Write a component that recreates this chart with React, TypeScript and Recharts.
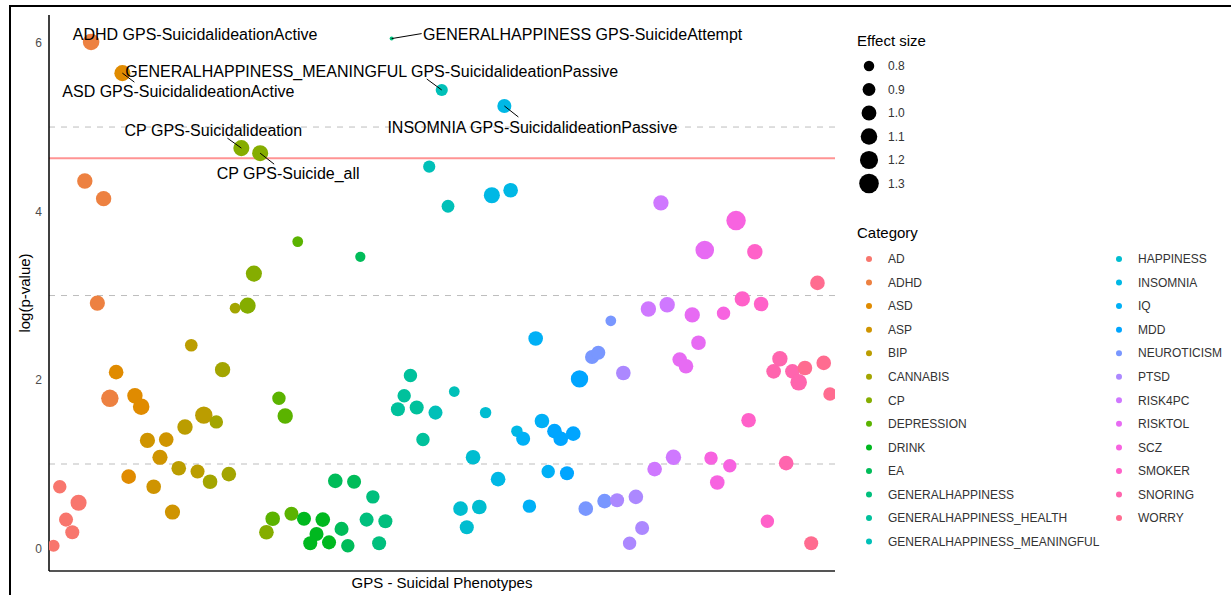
import React from 'react';
import {
  ScatterChart,
  Scatter,
  XAxis,
  YAxis,
  ZAxis,
  ReferenceLine,
} from 'recharts';

const categories = [
  'AD', 'ADHD', 'ASD', 'ASP', 'BIP', 'CANNABIS', 'CP', 'DEPRESSION', 'DRINK', 'EA',
  'GENERALHAPPINESS', 'GENERALHAPPINESS_HEALTH', 'GENERALHAPPINESS_MEANINGFUL',
  'HAPPINESS', 'INSOMNIA', 'IQ', 'MDD', 'NEUROTICISM', 'PTSD', 'RISK4PC', 'RISKTOL',
  'SCZ', 'SMOKER', 'SNORING', 'WORRY',
];

// -log10(p) per category, 5 phenotypes each
const logP: number[][] = [
  [0.03, 0.73, 0.34, 0.19, 0.54],
  [4.36, 6.01, 2.91, 4.15, 1.78],
  [2.09, 5.64, 0.85, 1.81, 1.68],
  [1.28, 0.73, 1.08, 1.29, 0.43],
  [0.95, 1.44, 2.41, 0.91, 1.58],
  [0.79, 1.5, 2.12, 0.88, 2.85],
  [4.75, 2.88, 3.26, 4.69, 0.19],
  [0.35, 1.78, 1.57, 0.41, 3.64],
  [0.35, 0.06, 0.17, 0.34, 0.07],
  [0.8, 0.23, 0.03, 0.79, 3.46],
  [0.34, 0.61, 0.06, 0.32, 6.05],
  [1.65, 1.81, 2.05, 1.67, 1.29],
  [4.53, 1.61, 5.44, 4.06, 1.86],
  [0.47, 0.25, 1.08, 0.49, 1.61],
  [4.19, 0.82, 5.25, 4.25, 1.39],
  [1.3, 0.5, 2.49, 1.51, 0.91],
  [1.39, 1.3, 0.89, 1.36, 2.01],
  [0.47, 2.27, 2.32, 0.56, 2.7],
  [0.57, 2.08, 0.06, 0.61, 0.24],
  [2.84, 0.94, 4.1, 2.89, 1.08],
  [2.24, 2.16, 2.77, 2.44, 3.54],
  [1.07, 0.78, 2.79, 0.98, 3.89],
  [2.96, 1.52, 3.52, 2.9, 0.32],
  [2.1, 2.25, 1.01, 2.1, 1.97],
  [2.14, 0.06, 3.15, 2.2, 1.83],
];

const effect: number[][] = [
  [0.87, 0.93, 0.96, 0.96, 1.07],
  [1.03, 1.1, 1.02, 1.03, 1.15],
  [0.99, 1.07, 0.99, 1.03, 1.1],
  [1.02, 0.99, 1.02, 0.99, 1.02],
  [0.99, 1.03, 0.89, 0.96, 1.15],
  [0.99, 0.93, 1.03, 0.99, 0.81],
  [1.07, 1.07, 1.07, 1.07, 0.99],
  [0.99, 0.93, 1.03, 0.96, 0.81],
  [0.96, 0.96, 0.96, 0.99, 0.96],
  [0.99, 0.96, 0.93, 0.96, 0.79],
  [0.96, 0.93, 0.96, 0.96, 0.63],
  [0.96, 0.93, 0.93, 0.96, 0.93],
  [0.87, 0.96, 0.87, 0.9, 0.81],
  [0.99, 0.96, 0.99, 0.99, 0.84],
  [1.07, 0.99, 0.96, 0.99, 0.84],
  [0.96, 0.93, 0.99, 0.99, 0.93],
  [0.99, 0.99, 0.96, 0.99, 1.15],
  [0.99, 0.96, 0.96, 0.99, 0.81],
  [0.96, 0.99, 0.93, 0.99, 0.96],
  [1.03, 0.99, 1.03, 1.03, 1.03],
  [0.99, 0.99, 1.03, 0.99, 1.23],
  [0.93, 0.99, 0.93, 0.93, 1.29],
  [1.03, 0.99, 1.03, 0.99, 0.93],
  [0.99, 1.03, 0.99, 0.99, 1.1],
  [0.99, 0.96, 0.99, 0.99, 0.93],
];

const labelled = [
  { cat: 1, j: 1, text: 'ADHD GPS-SuicidalideationActive' },
  { cat: 10, j: 4, text: 'GENERALHAPPINESS GPS-SuicideAttempt' },
  { cat: 12, j: 2, text: 'GENERALHAPPINESS_MEANINGFUL GPS-SuicidalideationPassive' },
  { cat: 2, j: 1, text: 'ASD GPS-SuicidalideationActive' },
  { cat: 14, j: 2, text: 'INSOMNIA GPS-SuicidalideationPassive' },
  { cat: 6, j: 0, text: 'CP GPS-Suicidalideation' },
  { cat: 6, j: 3, text: 'CP GPS-Suicide_all' },
];

const sizeBreaks = [0.8, 0.9, 1.0, 1.1, 1.2, 1.3];
const threshold = 4.63;

// label placement (text centre offset, baseline offset, leader end)
const labelPos: Record<string, { dx: number; dy: number; lx?: number; ly?: number }> = {
  'ADHD GPS-SuicidalideationActive': { dx: 104, dy: -2 },
  'GENERALHAPPINESS GPS-SuicideAttempt': { dx: 191, dy: 1, lx: 30, ly: -5 },
  'GENERALHAPPINESS_MEANINGFUL GPS-SuicidalideationPassive': { dx: -70, dy: -13, lx: -15, ly: -11 },
  'ASD GPS-SuicidalideationActive': { dx: 56, dy: 24, lx: 12, ly: 9 },
  'INSOMNIA GPS-SuicidalideationPassive': { dx: 28, dy: 27, lx: 14, ly: 11 },
  'CP GPS-Suicidalideation': { dx: -28, dy: -12, lx: -14, ly: -10 },
  'CP GPS-Suicide_all': { dx: 28, dy: 26, lx: 14, ly: 11 },
};

// ggplot2 default hue palette (hcl, l=65, c=100)
function hueColor(h: number): string {
  const L = 65;
  const C = 100;
  const hr = (h * Math.PI) / 180;
  const U = C * Math.cos(hr);
  const V = C * Math.sin(hr);
  const Xn = 95.047, Yn = 100, Zn = 108.883;
  const den = Xn + 15 * Yn + 3 * Zn;
  const un = (4 * Xn) / den;
  const vn = (9 * Yn) / den;
  const Y = Yn * Math.pow((L + 16) / 116, 3);
  const u = U / (13 * L) + un;
  const v = V / (13 * L) + vn;
  const X = (9 * Y * u) / (4 * v);
  const Z = (Y * (12 - 3 * u - 20 * v)) / (4 * v);
  const x = X / 100, y = Y / 100, z = Z / 100;
  const lin = [
    3.240479 * x - 1.53715 * y - 0.498535 * z,
    -0.969256 * x + 1.875992 * y + 0.041556 * z,
    0.055648 * x - 0.204043 * y + 1.057311 * z,
  ];
  return (
    '#' +
    lin
      .map((c) => {
        let g = c <= 0.0031308 ? 12.92 * c : 1.055 * Math.pow(c, 1 / 2.4) - 0.055;
        g = Math.min(1, Math.max(0, g));
        return Math.round(g * 255).toString(16).padStart(2, '0');
      })
      .join('')
  );
}

const colors = categories.map((_, i) => hueColor(15 + (360 / categories.length) * i));

const Z_DOMAIN = [0.6, 1.4];
const Z_RANGE = [0, 345];
const radiusOf = (e: number) => {
  const area = ((e - Z_DOMAIN[0]) / (Z_DOMAIN[1] - Z_DOMAIN[0])) * (Z_RANGE[1] - Z_RANGE[0]) + Z_RANGE[0];
  return Math.sqrt(area / Math.PI);
};

const series = categories.map((cat, ci) =>
  logP[ci].map((y, j) => ({ x: ci * 5 + j, y, z: effect[ci][j], cat }))
);

const labelData = labelled.map((l) => ({
  x: l.cat * 5 + l.j,
  y: logP[l.cat][l.j],
  z: effect[l.cat][l.j],
  text: l.text,
}));

const LabelShape = (props: any) => {
  const { cx, cy, payload } = props;
  const p = labelPos[payload.text];
  return (
    <g>
      {p.lx !== undefined && (
        <line x1={cx} y1={cy} x2={cx + p.lx} y2={cy + (p.ly ?? 0)} stroke="#000" strokeWidth={1} />
      )}
      <text x={cx + p.dx} y={cy + p.dy} textAnchor="middle" fontSize={16} fill="#000">
        {payload.text}
      </text>
    </g>
  );
};

const LegendPanel = () => {
  const col1 = categories.slice(0, 13);
  const col2 = categories.slice(13);
  const rowH = 23.55;
  return (
    <svg width={386} height={595} style={{ position: 'absolute', left: 845, top: 0 }}>
      <text x={12} y={46} fontSize={15} fill="#000">Effect size</text>
      {sizeBreaks.map((e, i) => (
        <g key={e}>
          <circle cx={24} cy={66 + i * 23.5} r={radiusOf(e)} fill="#000" />
          <text x={43} y={66 + i * 23.5} dy="0.35em" fontSize={12} fill="#333">
            {e.toFixed(1)}
          </text>
        </g>
      ))}
      <text x={12} y={238} fontSize={15} fill="#000">Category</text>
      {col1.map((c, i) => (
        <g key={c}>
          <circle cx={24} cy={259 + i * rowH} r={3} fill={colors[i]} />
          <text x={43} y={259 + i * rowH} dy="0.35em" fontSize={12} fill="#333">{c}</text>
        </g>
      ))}
      {col2.map((c, i) => (
        <g key={c}>
          <circle cx={274} cy={259 + i * rowH} r={3} fill={colors[i + 13]} />
          <text x={293} y={259 + i * rowH} dy="0.35em" fontSize={12} fill="#333">{c}</text>
        </g>
      ))}
    </svg>
  );
};

export default function App() {
  return (
    <div
      style={{
        position: 'absolute',
        left: 0,
        top: 0,
        width: 1231,
        height: 595,
        overflow: 'hidden',
        background: '#fff',
        fontFamily: '"Liberation Sans", Arial, sans-serif',
      }}
    >
      <ScatterChart width={845} height={595} margin={{ top: 15, right: 10, bottom: 0, left: 0 }}>
        <XAxis
          type="number"
          dataKey="x"
          domain={[-0.72, 124.8]}
          allowDataOverflow
          tick={false}
          tickLine={false}
          height={24}
          axisLine={{ stroke: '#555', strokeWidth: 2 }}
          label={{ value: 'GPS - Suicidal Phenotypes', position: 'insideTop', offset: 6, fontSize: 15, fill: '#000' }}
        />
        <YAxis
          type="number"
          dataKey="y"
          domain={[-0.27, 6.33]}
          ticks={[0, 2, 4, 6]}
          allowDataOverflow
          width={49}
          tickLine={false}
          tickSize={0}
          tickMargin={7}
          tick={{ fill: '#4d4d4d', fontSize: 12 }}
          axisLine={{ stroke: '#000', strokeWidth: 1.5 }}
          label={{ value: 'log(p-value)', angle: -90, position: 'center', fontSize: 15, fill: '#000' }}
        />
        <ZAxis type="number" dataKey="z" domain={Z_DOMAIN} range={Z_RANGE} />
        {[1, 3, 5].map((v) => (
          <ReferenceLine key={v} y={v} stroke="#bdbdbd" strokeDasharray="6 6" />
        ))}
        <ReferenceLine y={threshold} stroke="#ff9494" strokeWidth={2} />
        {series.map((d, ci) => (
          <Scatter
            key={categories[ci]}
            name={categories[ci]}
            data={d}
            fill={colors[ci]}
            isAnimationActive={false}
          />
        ))}
        <Scatter data={labelData} shape={LabelShape} isAnimationActive={false} />
      </ScatterChart>
      <LegendPanel />
      <div
        style={{
          position: 'absolute',
          left: 9,
          top: 5,
          width: 1400,
          height: 800,
          border: '2px solid #000',
          pointerEvents: 'none',
        }}
      />
    </div>
  );
}
